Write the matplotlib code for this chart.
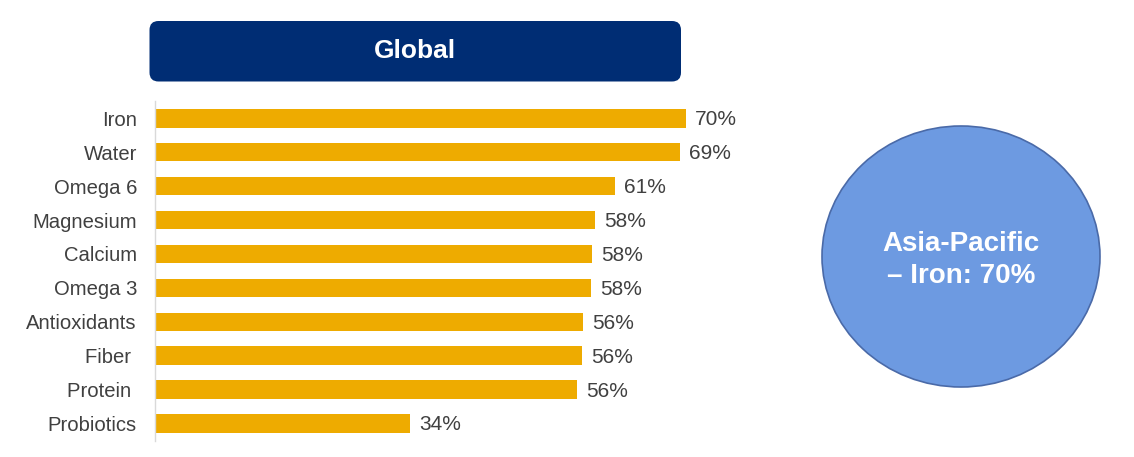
import matplotlib.pyplot as plt
from matplotlib.patches import FancyBboxPatch, Ellipse

plt.rcParams['font.family'] = ['Liberation Sans', 'DejaVu Sans']

# data
nutrients = ['Iron', 'Water', 'Omega 6', 'Magnesium', 'Calcium', 'Omega 3',
             'Antioxidants', 'Fiber ', 'Protein ', 'Probiotics']
shares = [70, 69.2, 60.6, 58.0, 57.6, 57.5, 56.4, 56.3, 55.6, 33.6]
share_labels = ['70%', '69%', '61%', '58%', '58%', '58%', '56%', '56%', '56%', '34%']
header = 'Global'
callout = 'Asia-Pacific\n– Iron: 70%'

W, H = 1134, 457
fig = plt.figure(figsize=(W / 100, H / 100), dpi=100)

# bar chart
ax = fig.add_axes([155 / W, 1 - 440.5 / H, 607 / W, 339.2 / H])
y = list(range(len(nutrients)))
ax.barh(y, shares, height=0.545, color='#EEAB00')
ax.set_xlim(0, 80)
ax.set_ylim(len(nutrients) - 0.5, -0.5)
ax.set_yticks(y)
ax.set_yticklabels(nutrients, fontsize=14.6, color='#404040')
ax.tick_params(axis='y', length=0, pad=13)
ax.set_xticks([])
for s in ['top', 'right', 'bottom']:
    ax.spines[s].set_visible(False)
ax.spines['left'].set_color('#D9D9D9')
ax.spines['left'].set_linewidth(1)
for yi, v, lab in zip(y, shares, share_labels):
    ax.annotate(lab, (v, yi), xytext=(6.5, -1), textcoords='offset points',
                va='center', ha='left', fontsize=15, color='#404040')

# overlay for header box and circle, in pixel coords
ov = fig.add_axes([0, 0, 1, 1])
ov.set_xlim(0, W)
ov.set_ylim(H, 0)
ov.axis('off')
ov.add_patch(FancyBboxPatch((149.5, 21), 531.5, 60.5,
                            boxstyle='round,pad=0,rounding_size=9',
                            facecolor='#002D74', edgecolor='none'))
ov.text(415, 51.5, header, ha='center', va='center', color='white',
        fontsize=19, fontweight='bold')
ov.add_patch(Ellipse((961, 256.5), 278, 261, facecolor='#6D9AE1',
                     edgecolor='#4A6AA8', linewidth=1.2))
ov.text(961, 260, callout, ha='center', va='center', color='white',
        fontsize=20, fontweight='bold', linespacing=1.3)

fig.savefig('out.png', dpi=100)
